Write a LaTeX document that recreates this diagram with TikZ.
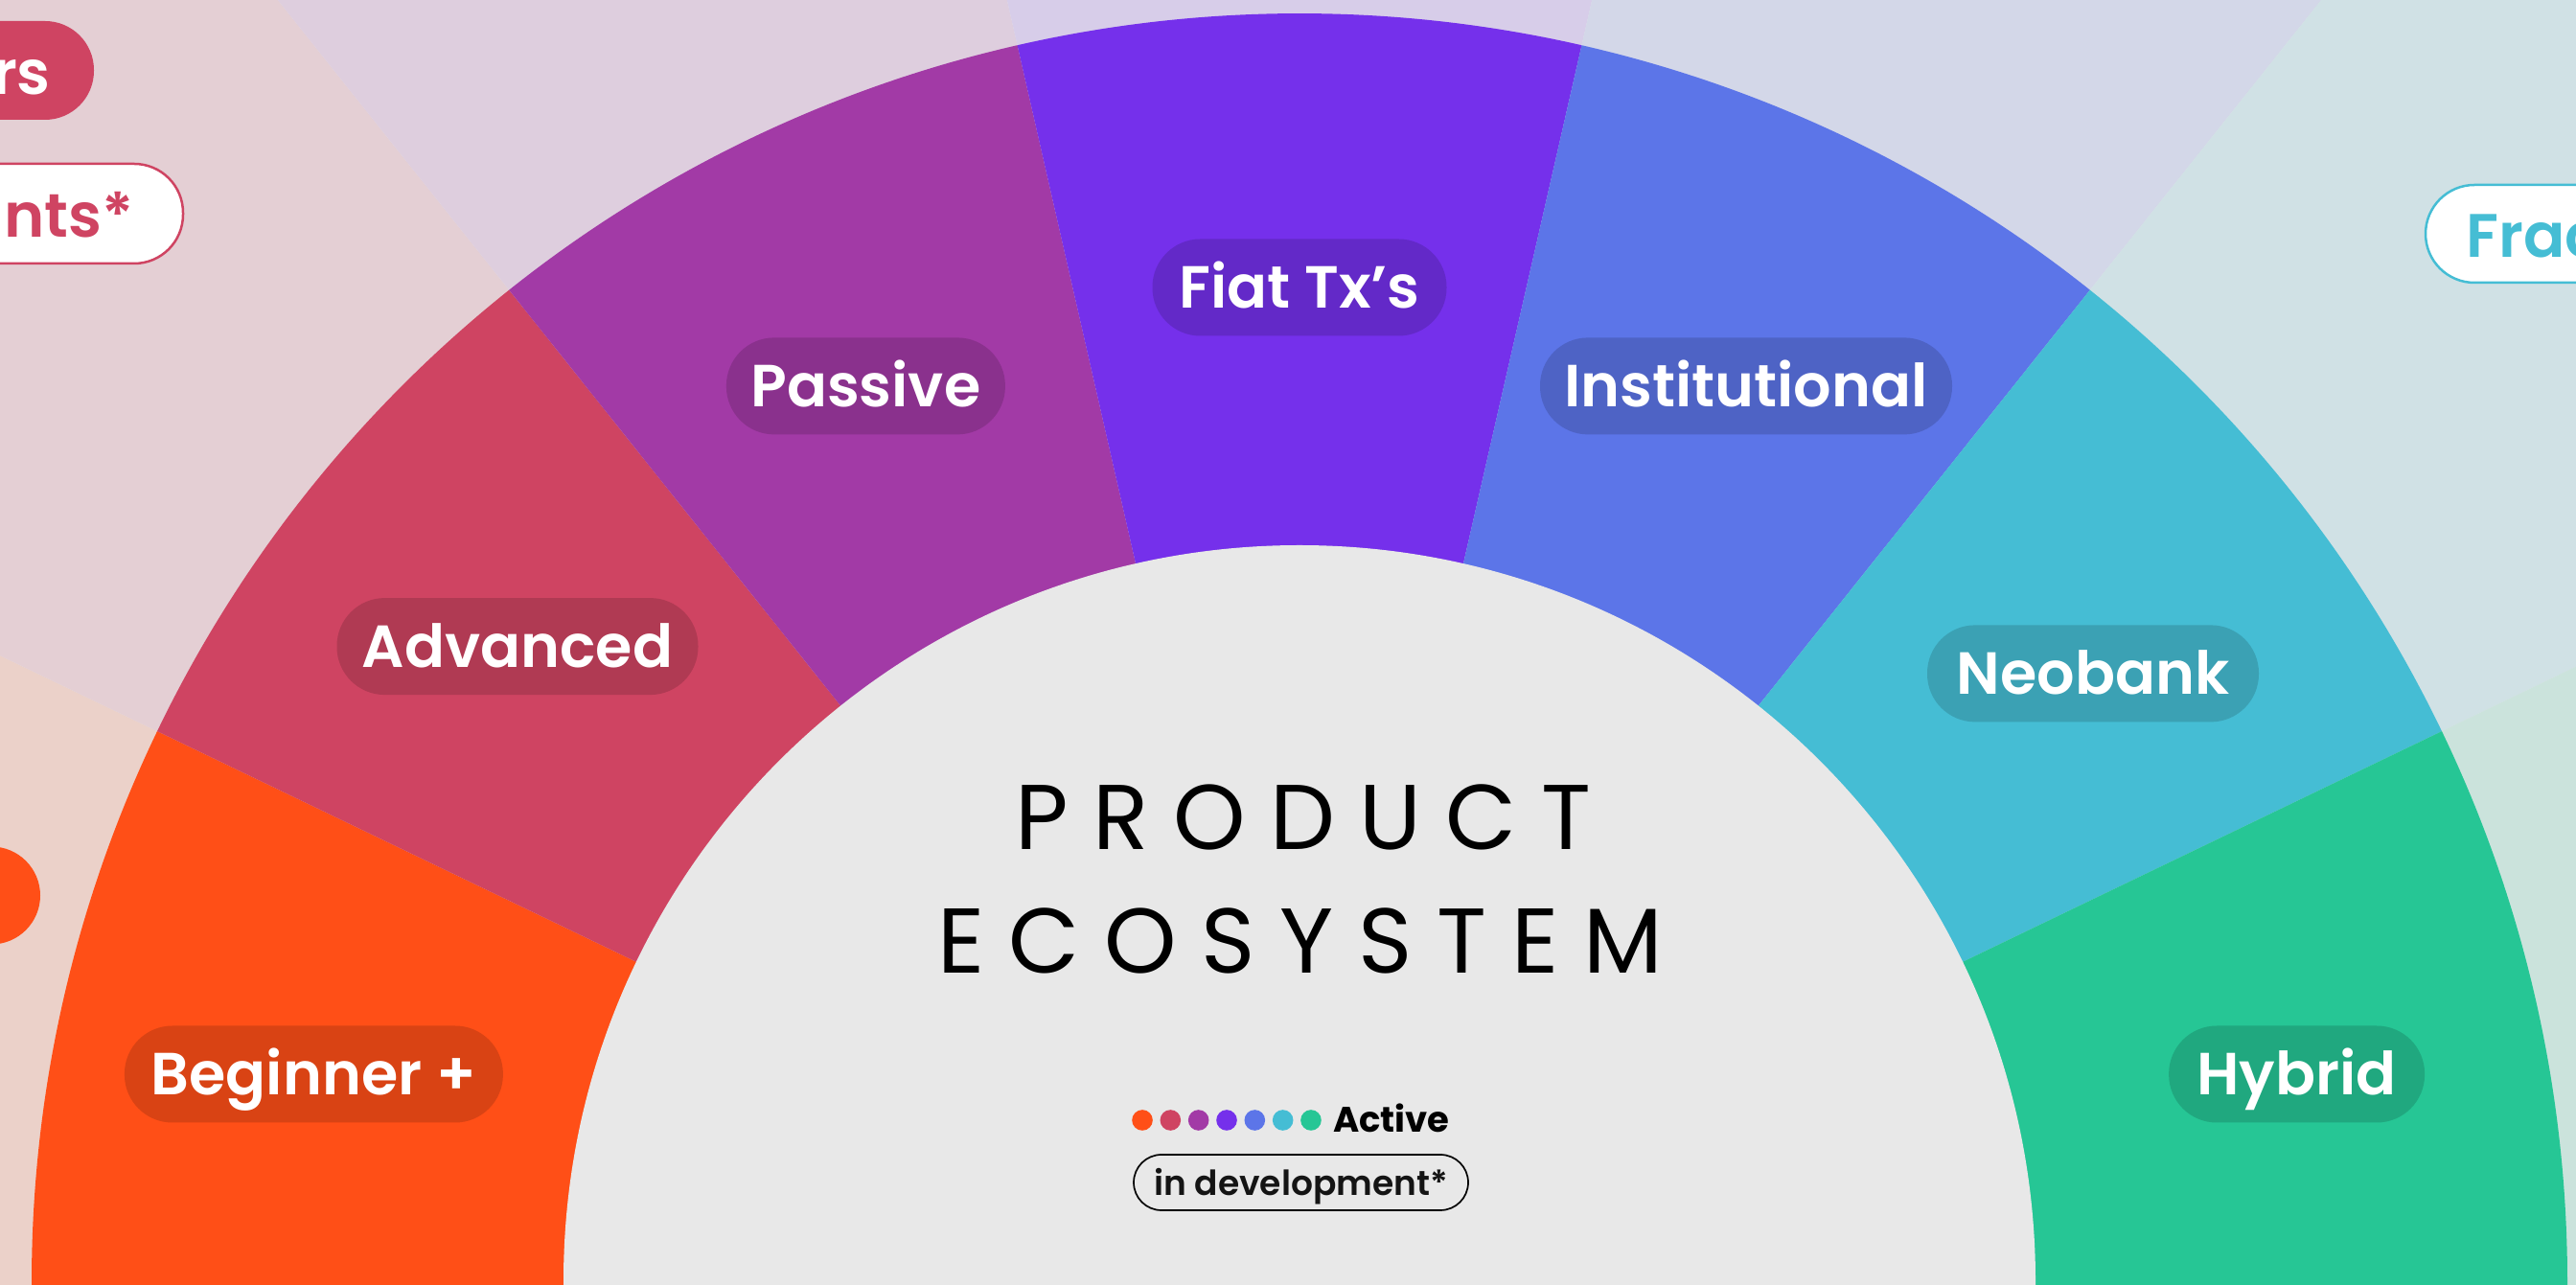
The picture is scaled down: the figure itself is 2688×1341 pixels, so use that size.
\documentclass[tikz,border=0pt]{standalone}
\usepackage{fontspec}
\setmainfont{Poppins}
\newfontfamily\semib{Poppins SemiBold}
\newfontfamily\boldf{Poppins Bold}
\definecolor{bg}{HTML}{E8E8E8}
\definecolor{cA}{HTML}{FF4F17}
\definecolor{cB}{HTML}{CF4462}
\definecolor{cC}{HTML}{A23AA6}
\definecolor{cD}{HTML}{7530EB}
\definecolor{cE}{HTML}{5C75E8}
\definecolor{cF}{HTML}{45BDD4}
\definecolor{cG}{HTML}{26C695}
\tikzset{
  seglabel/.style={rectangle, rounded corners=50pt, fill=#1!85!black, text=white,
    font=\semib\fontsize{62}{62}\selectfont, text height=44pt, text depth=0pt,
    inner xsep=0pt, inner ysep=0pt, minimum height=101pt},
  pillout/.style={rectangle, rounded corners=51pt, inner sep=0pt},
  outtext/.style={font=\semib\fontsize{64}{64}\selectfont, inner sep=0pt},
  titleline/.style={font=\fontsize{96}{96}\selectfont, text height=67pt, text depth=0pt, inner sep=0pt},
  legdot/.style={circle, inner sep=0pt, minimum size=21.6pt}
}
\begin{document}
\begin{tikzpicture}[x=1pt,y=1pt]
\useasboundingbox (0,0) rectangle (2688,1341);
\clip (0,0) rectangle (2688,1341);
\fill[bg] (0,0) rectangle (2688,1341);
\coordinate (C) at (1356,4);
% light outer wedges
\foreach \a/\b/\c in {154.29/190/cA,128.57/154.29/cB,102.86/128.57/cC,77.14/102.86/cD,51.43/77.14/cE,25.71/51.43/cF,-10/25.71/cG}
  \fill[\c!15!bg] (C) -- ++(\a:3000) arc[start angle=\a, end angle=\b, radius=3000] -- cycle;
% ring segments
\foreach \a/\b/\c in {154.29/190/cA,128.57/154.29/cB,102.86/128.57/cC,77.14/102.86/cD,51.43/77.14/cE,25.71/51.43/cF,-10/25.71/cG}
  \fill[\c] (C) -- ++(\a:1323) arc[start angle=\a, end angle=\b, radius=1323] -- cycle;
\fill[bg] (C) circle[radius=768];
% segment labels
\node[seglabel=cA, minimum width=395pt] (lbeg) at (327.4,220) {Beginner +};
\node[seglabel=cB, minimum width=377pt] (ladv) at (540,666.4) {Advanced};
\node[seglabel=cC, minimum width=291pt] (lpas) at (903.4,938.1) {Passive};
\node[seglabel=cD, minimum width=307pt] (lfiat) at (1356,1041) {Fiat Tx’s};
\node[seglabel=cE, minimum width=430pt] (linst) at (1822,938.1) {Institutional};
\node[seglabel=cF, minimum width=346pt] (lneo) at (2184,638.1) {Neobank};
\node[seglabel=cG, minimum width=267pt] (lhyb) at (2396.6,220) {Hybrid};
% title
\node[titleline] (t1) at (1360,487.5) {\makebox[601pt][s]{P\hfill R\hfill O\hfill D\hfill U\hfill C\hfill T}};
\node[titleline] (t2) at (1356.5,359) {\makebox[757pt][s]{E\hfill C\hfill O\hfill S\hfill Y\hfill S\hfill T\hfill E\hfill M}};
% legend
\foreach \i/\c in {0/cA,1/cB,2/cC,3/cD,4/cE,5/cF,6/cG}
  \node[legdot, fill=\c] (d\i) at (1192+29.33*\i,172) {};
\node[anchor=base west, inner sep=0pt, font=\boldf\fontsize{37}{37}\selectfont] (act) at (1391,159.3) {Active};
\node[rectangle, rounded corners=29pt, draw=black, line width=1.7pt, fill=bg,
  minimum width=349pt, minimum height=58pt, inner sep=0pt, text height=26.7pt, text depth=0pt,
  font=\semib\fontsize{36}{36}\selectfont, text=black!92] (dev) at (1357.5,107) {in development*};
% partial elements at the edges
\node[pillout, fill=cB, minimum width=398pt, minimum height=103pt] (prs) at (-101,1267.5) {};
\node[outtext, text=white, anchor=base east] (trs) at (53,1242) {rs};
\node[pillout, fill=white, draw=cB, line width=2.5pt, minimum width=394pt, minimum height=104pt] (punts) at (-6,1118) {};
\node[outtext, text=cB, anchor=base east] (tunts) at (140,1093) {unts*};
\node[circle, fill=cA, minimum size=102pt, inner sep=0pt] (dot) at (-9,406.5) {};
\node[pillout, fill=white, draw=cF, line width=2.5pt, minimum width=369pt, minimum height=102pt] (pfrac) at (2715.5,1097) {};
\node[outtext, text=cF, anchor=base west] (tfrac) at (2573,1072) {Frac};
\end{tikzpicture}
\end{document}
